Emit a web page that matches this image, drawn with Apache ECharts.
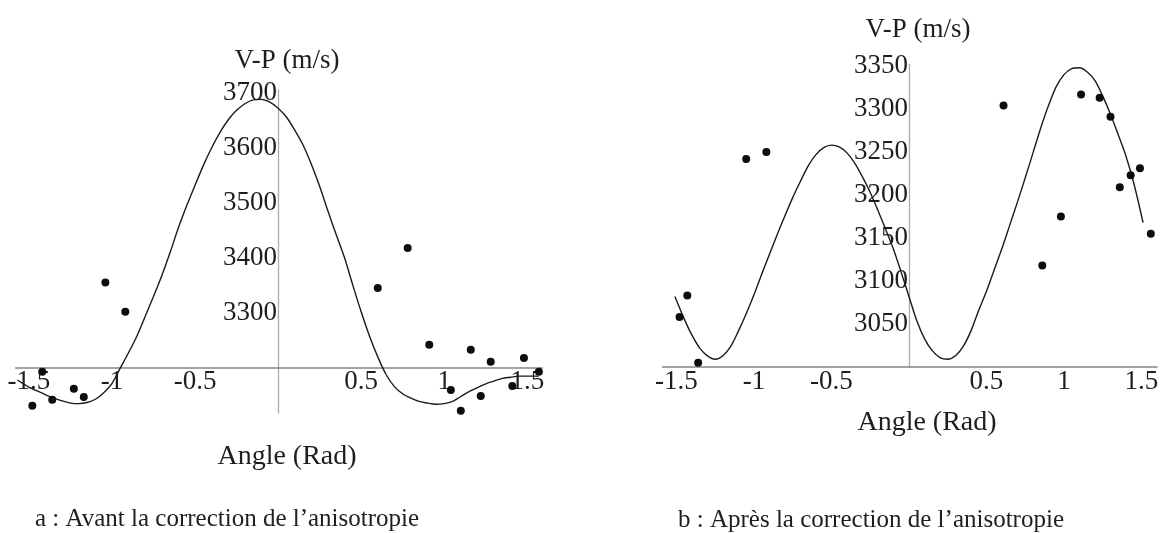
<!DOCTYPE html>
<html>
<head>
<meta charset="utf-8">
<script src="https://cdn.jsdelivr.net/npm/echarts@6/dist/echarts.min.js"></script>
<style>
html,body{margin:0;padding:0;background:#ffffff;}
#chart{width:1161px;height:533px;}
</style>
</head>
<body>
<div id="chart"></div>
<script>
// ---------- Panel a : avant correction ----------
const aPointX = [-1.48, -1.42, -1.36, -1.23, -1.17, -1.04, -0.92, 0.60, 0.78, 0.91, 1.04, 1.10, 1.16, 1.22, 1.28, 1.41, 1.48, 1.57];
const aPointV = [3131, 3193, 3142, 3162, 3147, 3355, 3302, 3345, 3418, 3242, 3160, 3122, 3233, 3149, 3211, 3167, 3218, 3193];
const aCurveX = [-1.57, -1.5, -1.45, -1.4, -1.35, -1.3, -1.25, -1.2, -1.15, -1.1, -1.05, -1.0, -0.95, -0.9, -0.85, -0.8, -0.75, -0.7, -0.65, -0.6, -0.55, -0.5, -0.45, -0.4, -0.35, -0.3, -0.25, -0.2, -0.15, -0.1, -0.05, 0, 0.05, 0.1, 0.15, 0.2, 0.25, 0.3, 0.35, 0.4, 0.45, 0.5, 0.55, 0.6, 0.65, 0.7, 0.75, 0.8, 0.85, 0.9, 0.95, 1.0, 1.05, 1.1, 1.15, 1.2, 1.25, 1.3, 1.35, 1.4, 1.45, 1.5, 1.57];
const aCurveV = [3178, 3165, 3158, 3151, 3145, 3140, 3136, 3135, 3137, 3143, 3155, 3172, 3200, 3228, 3258, 3294, 3330, 3368, 3410, 3455, 3495, 3532, 3568, 3600, 3628, 3651, 3668, 3680, 3687, 3688, 3683, 3672, 3656, 3632, 3605, 3570, 3530, 3485, 3442, 3400, 3350, 3302, 3258, 3220, 3188, 3166, 3153, 3145, 3139, 3136, 3134, 3135, 3139, 3148, 3157, 3164, 3171, 3176, 3181, 3183, 3185, 3185, 3185];
const aXTicks = [-1.5, -1, -0.5, 0.5, 1, 1.5];
const aYTicks = [3300, 3400, 3500, 3600, 3700];
const aCross = 3200;

// ---------- Panel b : après correction ----------
const bPointX = [-1.48, -1.43, -1.36, -1.05, -0.92, 0.61, 0.86, 0.98, 1.05, 1.11, 1.23, 1.30, 1.36, 1.43, 1.49, 1.56];
const bPointV = [3058, 3083, 3005, 3242, 3250, 3304, 3118, 3175, 3353, 3317, 3313, 3291, 3209, 3223, 3231, 3155];
const bCurveX = [-1.51, -1.45, -1.4, -1.35, -1.3, -1.25, -1.2, -1.15, -1.1, -1.05, -1.0, -0.95, -0.9, -0.85, -0.8, -0.75, -0.7, -0.65, -0.6, -0.55, -0.5, -0.45, -0.4, -0.35, -0.3, -0.25, -0.2, -0.15, -0.1, -0.05, 0, 0.05, 0.1, 0.15, 0.2, 0.25, 0.3, 0.35, 0.4, 0.45, 0.5, 0.55, 0.6, 0.65, 0.7, 0.75, 0.8, 0.85, 0.9, 0.95, 1.0, 1.05, 1.1, 1.15, 1.2, 1.25, 1.3, 1.35, 1.4, 1.45, 1.51];
const bCurveV = [3082, 3056, 3037, 3022, 3013, 3009, 3013, 3024, 3042, 3062, 3084, 3108, 3131, 3154, 3176, 3197, 3216, 3234, 3247, 3255, 3258, 3256, 3249, 3237, 3221, 3203, 3182, 3160, 3137, 3110, 3082, 3054, 3033, 3019, 3011, 3009, 3013, 3024, 3042, 3066, 3088, 3113, 3138, 3165, 3192, 3220, 3249, 3278, 3304, 3326, 3340, 3347, 3348, 3343, 3333, 3315, 3294, 3270, 3245, 3214, 3168];
const bXTicks = [-1.5, -1, -0.5, 0.5, 1, 1.5];
const bYTicks = [3050, 3100, 3150, 3200, 3250, 3300, 3350];
const bCross = 3000;

const yTitle = 'V-P (m/s)';
const xTitle = 'Angle (Rad)';
const captionA = 'a : Avant la correction de l\u2019anisotropie';
const captionB = 'b : Apr\u00e8s la correction de l\u2019anisotropie';

const FONT = '"Liberation Serif", "Times New Roman", serif';
const TXT = '#1e1e1e';

function zip(xs, vs) { return xs.map((x, i) => [x, vs[i]]); }
const plain = v => String(v);

const gridA = { left: 15.7, top: 90, width: 526.5, height: 323 };
const gridB = { left: 662.5, top: 64.3, width: 494.5, height: 302.7 };

function xAxisCfg(gi, min, max, ticks) {
  return {
    type: 'value', gridIndex: gi, min: min, max: max,
    axisLine: { show: true, onZero: false, lineStyle: { color: '#858585', width: 1.5 } },
    axisTick: { show: false },
    splitLine: { show: false },
    axisLabel: { customValues: ticks, formatter: plain, margin: 1, fontFamily: FONT, fontSize: 27, color: TXT }
  };
}
function yAxisCfg(gi, min, max, ticks) {
  return {
    type: 'value', gridIndex: gi, min: min, max: max, position: 'left',
    axisLine: { show: true, onZero: false, lineStyle: { color: '#ababab', width: 1.3 } },
    axisTick: { show: false },
    splitLine: { show: false },
    axisLabel: { customValues: ticks, formatter: plain, margin: 1, fontFamily: FONT, fontSize: 27, color: TXT }
  };
}
function text(x, y, s, size, align) {
  return { type: 'text', x: x, y: y, style: { text: s, font: size + 'px ' + FONT, fill: TXT, align: align || 'center', verticalAlign: 'middle' } };
}

const chart = echarts.init(document.getElementById('chart'), null, { renderer: 'canvas' });
chart.setOption({
  animation: false,
  backgroundColor: '#ffffff',
  grid: [
    Object.assign({ containLabel: false, outerBoundsMode: 'none' }, gridA),
    Object.assign({ containLabel: false, outerBoundsMode: 'none' }, gridB)
  ],
  xAxis: [xAxisCfg(0, -1.58, 1.59, aXTicks), xAxisCfg(1, -1.59, 1.6, bXTicks)],
  yAxis: [yAxisCfg(0, 3118, 3705, aYTicks), yAxisCfg(1, 3000, 3352, bYTicks)],
  series: [
    { type: 'line', xAxisIndex: 0, yAxisIndex: 0, data: zip(aCurveX, aCurveV), smooth: 0.3, showSymbol: false,
      lineStyle: { color: '#1a1a1a', width: 1.4 }, z: 3 },
    { type: 'scatter', xAxisIndex: 0, yAxisIndex: 0, data: zip(aPointX, aPointV), symbolSize: 8,
      itemStyle: { color: '#0d0d0d', opacity: 1 }, z: 4 },
    { type: 'line', xAxisIndex: 1, yAxisIndex: 1, data: zip(bCurveX, bCurveV), smooth: 0.3, showSymbol: false,
      lineStyle: { color: '#1a1a1a', width: 1.4 }, z: 3 },
    { type: 'scatter', xAxisIndex: 1, yAxisIndex: 1, data: zip(bPointX, bPointV), symbolSize: 8,
      itemStyle: { color: '#0d0d0d', opacity: 1 }, z: 4 }
  ],
  graphic: [
    text(287, 61, yTitle, 27),
    text(918, 30, yTitle, 27),
    text(287, 457, xTitle, 28),
    text(927, 423, xTitle, 28),
    text(35, 519, captionA, 25, 'left'),
    text(678, 520, captionB, 25, 'left')
  ]
});

// place the horizontal axes where they cross the vertical ones (V-P = aCross / bCross)
// and the vertical axes at angle 0
const yA = chart.convertToPixel({ yAxisIndex: 0 }, aCross);
const yB = chart.convertToPixel({ yAxisIndex: 1 }, bCross);
const xA = chart.convertToPixel({ xAxisIndex: 0 }, 0);
const xB = chart.convertToPixel({ xAxisIndex: 1 }, 0);
chart.setOption({
  xAxis: [
    { offset: yA - (gridA.top + gridA.height) },
    { offset: yB - (gridB.top + gridB.height) }
  ],
  yAxis: [
    { offset: gridA.left - xA },
    { offset: gridB.left - xB }
  ]
});
</script>
</body>
</html>
